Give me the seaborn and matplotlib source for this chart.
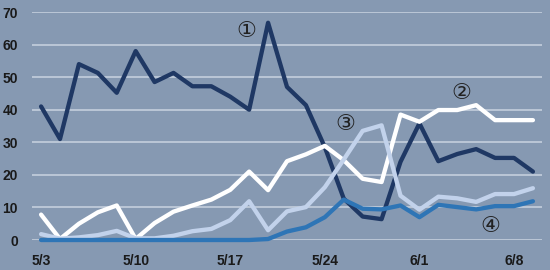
import matplotlib
matplotlib.use("Agg")
import matplotlib.pyplot as plt
import seaborn as sns
import pandas as pd
import numpy as np

# ---- data ----
dates = ["5/3", "5/4", "5/5", "5/6", "5/7",
         "5/10", "5/11", "5/12", "5/13", "5/14",
         "5/17", "5/18", "5/19", "5/20", "5/21",
         "5/24", "5/25", "5/26", "5/27", "5/28",
         "6/1", "6/2", "6/3", "6/4", "6/5",
         "6/8", "6/9"]
tick_labels = ["5/3", "5/10", "5/17", "5/24", "6/1", "6/8"]

s1 = [41, 31, 54, 51.3, 45.2, 58, 48.5, 51.3, 47.2, 47.2,
      44, 40, 66.7, 47, 41.4, 28.5, 12.7, 7.2, 6.4, 24,
      35.8, 24.2, 26.4, 27.9, 25.2, 25.2, 21]
s2 = [7.8, 0.3, 5, 8.5, 10.6, 0.3, 5.2, 8.7, 10.6, 12.4,
      15.4, 21, 15.3, 24.2, 26.3, 28.9, 24.5, 18.8, 17.8, 38.5,
      36.3, 39.9, 39.9, 41.4, 36.8, 36.8, 36.8]
s3 = [1.8, 0.4, 0.8, 1.5, 2.8, 0.5, 0.5, 1.3, 2.7, 3.4,
      6.1, 11.9, 3, 8.8, 10.1, 16.2, 24.7, 33.5, 35.2, 13.6,
      9.3, 13.3, 12.8, 11.7, 14.1, 14.1, 15.9]
s4 = [0, 0, 0, 0, 0, 0, 0, 0, 0, 0,
      0, 0, 0.3, 2.6, 3.9, 7, 12.4, 9.6, 9.4, 10.6,
      7, 10.8, 10.1, 9.4, 10.4, 10.4, 11.9]
series_names = ["①", "②", "③", "④"]
annot_pos = {"①": (10.87, 64.3), "②": (22.24, 45.2),
             "③": (16.07, 35.5), "④": (23.73, 4.3)}

# ---- long-form table ----
rows = []
for name, vals in zip(series_names, [s1, s2, s3, s4]):
    for i, v in enumerate(vals):
        rows.append({"idx": i, "value": v, "series": name})
df = pd.DataFrame(rows)

bg = "#8699B2"
palette = {"①": "#1F3864", "②": "#FFFFFF", "③": "#C2D2EB", "④": "#2E75B6"}

sns.set_theme(style="white", rc={"axes.facecolor": bg, "figure.facecolor": bg})
plt.rcParams["font.family"] = ["Liberation Sans", "DejaVu Sans"]

fig = plt.figure(figsize=(5.5, 2.7), dpi=100)
ax = fig.add_axes([32 / 550, 30 / 270, 510 / 550, 228 / 270])
ax.set_facecolor(bg)

sns.lineplot(data=df, x="idx", y="value", hue="series", palette=palette,
             hue_order=series_names, linewidth=3.1, legend=False, ax=ax,
             clip_on=False)

ax.set_xlim(-0.48, 26.48)
ax.set_ylim(0, 70)
ax.set_yticks(range(0, 71, 10))
for y in range(0, 71, 10):
    ax.axhline(y, color="#C9D3E0", linewidth=1.1, zorder=0)
ax.grid(False)

tick_pos = [dates.index(t) for t in tick_labels]
ax.set_xticks(tick_pos)
ax.set_xticklabels(tick_labels)
ax.tick_params(axis="both", length=0, labelsize=10, labelcolor="#1a1a1a")
ax.tick_params(axis="x", pad=10)
ax.tick_params(axis="y", pad=10)
for lab in ax.get_xticklabels() + ax.get_yticklabels():
    lab.set_fontweight("bold")
ax.set_xlabel("")
ax.set_ylabel("")
for sp in ax.spines.values():
    sp.set_visible(False)

for name, (x, y) in annot_pos.items():
    ax.text(x, y, name, fontsize=16, color="#222222", ha="center", va="center",
            family=["DejaVu Sans"])

fig.savefig("out.png", dpi=100, facecolor=bg)
